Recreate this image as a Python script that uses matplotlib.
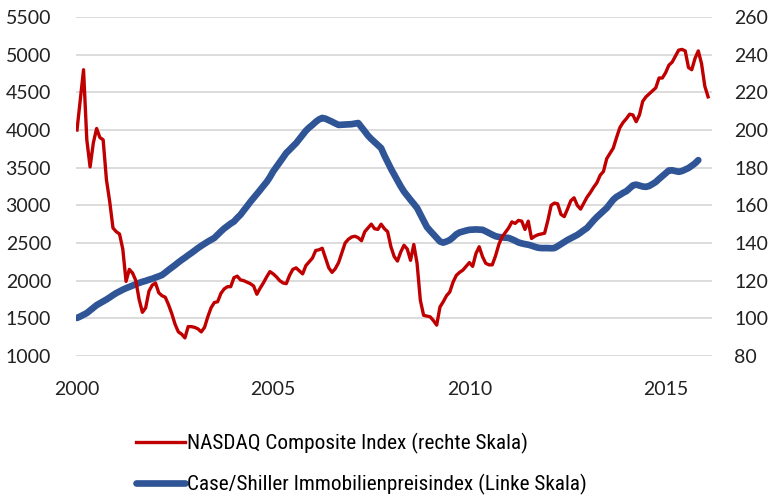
import matplotlib.pyplot as plt
from matplotlib import font_manager

# monthly values, Jan 2000 onwards
nasdaq = [
    4000, 4400, 4800, 3870, 3510, 3830, 4020, 3900, 3870, 3340, 3050, 2700,   # 2000
    2650, 2620, 2420, 1990, 2150, 2100, 2000, 1750, 1580, 1640, 1860, 1940,   # 2001
    1970, 1840, 1800, 1780, 1680, 1560, 1420, 1320, 1290, 1240, 1390, 1390,   # 2002
    1380, 1360, 1320, 1380, 1520, 1640, 1710, 1720, 1830, 1890, 1920, 1920,   # 2003
    2040, 2060, 2010, 2000, 1980, 1960, 1930, 1820, 1900, 1970, 2050, 2120,   # 2004
    2090, 2050, 2000, 1970, 1960, 2070, 2150, 2170, 2130, 2090, 2200, 2250,   # 2005
    2300, 2400, 2410, 2430, 2300, 2170, 2110, 2160, 2240, 2370, 2500, 2550,   # 2006
    2580, 2590, 2570, 2530, 2650, 2700, 2750, 2690, 2680, 2750, 2690, 2650,   # 2007
    2450, 2320, 2260, 2380, 2470, 2420, 2270, 2480, 2230, 1740, 1540, 1530,   # 2008
    1520, 1470, 1410, 1650, 1720, 1800, 1850, 1980, 2070, 2110, 2140, 2190,   # 2009
    2240, 2190, 2360, 2450, 2320, 2230, 2210, 2210, 2330, 2480, 2580, 2640,   # 2010
    2700, 2780, 2760, 2800, 2790, 2680, 2790, 2560, 2590, 2610, 2620, 2630,   # 2011
    2800, 3000, 3030, 3020, 2880, 2850, 2950, 3060, 3100, 3000, 2950, 3030,   # 2012
    3110, 3170, 3240, 3300, 3400, 3450, 3620, 3690, 3760, 3900, 4030, 4100,   # 2013
    4150, 4210, 4200, 4110, 4200, 4380, 4440, 4480, 4520, 4560, 4690, 4690,   # 2014
    4760, 4860, 4900, 4980, 5060, 5070, 5050, 4830, 4800, 4950, 5050, 4880,   # 2015
    4580, 4440,                                                               # 2016
]

case_shiller = [
    100.2, 101.0, 101.9, 102.8, 104.2, 105.6, 107.0, 108.0, 109.0, 110.0, 111.1, 112.3,
    113.4, 114.3, 115.2, 116.0, 116.7, 117.4, 118.1, 118.8, 119.4, 119.9, 120.5, 121.0,
    121.7, 122.3, 123.0, 124.3, 125.7, 127.0, 128.3, 129.7, 131.0, 132.2, 133.5, 134.7,
    136.0, 137.3, 138.5, 139.6, 140.7, 141.7, 142.7, 144.4, 146.1, 147.7, 149.0, 150.3,
    151.4, 153.3, 155.0, 157.3, 159.5, 161.8, 163.9, 166.0, 168.1, 170.3, 172.4, 175.0,
    178.0, 180.4, 182.9, 185.3, 187.8, 189.5, 191.3, 193.0, 195.2, 197.4, 199.6, 201.3,
    202.7, 204.3, 205.6, 206.4, 206.0, 205.2, 204.4, 203.5, 202.7, 202.8, 202.9, 203.0,
    203.1, 203.4, 203.7, 201.5, 199.3, 197.0, 195.2, 193.6, 192.0, 190.4, 186.5, 183.0,
    179.5, 176.3, 173.2, 170.1, 167.3, 165.1, 162.9, 160.8, 158.6, 155.2, 151.8, 148.5,
    146.5, 144.6, 142.7, 140.8, 140.2, 140.8, 141.6, 143.0, 144.6, 145.6, 146.1, 146.6,
    147.0, 147.1, 147.2, 147.1, 147.0, 146.2, 145.3, 144.4, 143.6, 143.2, 143.0, 142.8,
    142.7, 142.0, 141.2, 140.3, 139.8, 139.4, 139.1, 138.6, 138.0, 137.5, 137.3, 137.3,
    137.3, 137.2, 137.3, 138.3, 139.4, 140.5, 141.6, 142.5, 143.4, 144.3, 145.5, 146.8,
    148.0, 150.0, 152.0, 153.8, 155.4, 157.0, 158.6, 160.8, 163.0, 164.5, 165.5, 166.6,
    167.5, 169.0, 170.6, 171.0, 170.5, 170.0, 169.8, 170.3, 171.3, 172.4, 174.0, 175.5,
    177.0, 178.5, 178.6, 178.2, 177.8, 178.2, 179.0, 179.8, 181.0, 182.3, 184.0,
]

year_ticks = [0, 60, 120, 180]
year_labels = ['2000', '2005', '2010', '2015']
left_ticks = list(range(1000, 5501, 500))
right_ticks = list(range(80, 261, 20))


def pick_font(names):
    for n in names:
        try:
            font_manager.findfont(n, fallback_to_default=False)
            return n
        except ValueError:
            pass
    return 'DejaVu Sans'


tick_font = pick_font(['Lato', 'Open Sans', 'Noto Sans'])
legend_font = pick_font(['Liberation Sans Narrow', 'Roboto Condensed', 'Noto Sans', 'Roboto'])
plt.rcParams['font.family'] = [tick_font, 'DejaVu Sans']

fig = plt.figure(figsize=(7.71, 4.97), dpi=100)
ax = fig.add_axes([0.0986, 0.2837, 0.8249, 0.6821])

# blue on the base axes (scale on the right), red on the twin (scale on the left)
l_blue, = ax.plot(range(len(case_shiller)), case_shiller, color='#2F5597', lw=4.8,
                  solid_capstyle='round', solid_joinstyle='round')
ax.set_ylim(80, 260)
ax.grid(axis='y', color='#d9d9d9', lw=1.3)
ax.set_axisbelow(True)

ax2 = ax.twinx()
l_red, = ax2.plot(range(len(nasdaq)), nasdaq, color='#C00000', lw=2.4,
                  solid_joinstyle='round')
ax2.set_ylim(1000, 5500)

ax.set_yticks(right_ticks)
ax2.set_yticks(left_ticks)
ax.yaxis.tick_right()
ax2.yaxis.tick_left()

ax.set_xlim(-0.3, 194.2)
ax.set_xticks(year_ticks)
ax.set_xticklabels(year_labels)

for a in (ax, ax2):
    for s in a.spines.values():
        s.set_visible(False)
    a.tick_params(length=0, labelsize=14, colors='#222222')
ax.tick_params(axis='x', pad=18)
ax.tick_params(axis='y', pad=16)
ax2.tick_params(axis='y', pad=18)

fig.legend([l_red, l_blue],
           ['NASDAQ Composite Index (rechte Skala)',
            'Case/Shiller Immobilienpreisindex (Linke Skala)'],
           loc='upper left', bbox_to_anchor=(0.152, 0.168), frameon=False,
           handlelength=2.3, handletextpad=0.1, labelspacing=0.95,
           prop={'family': [legend_font, 'DejaVu Sans'], 'size': 15.3})

fig.savefig('out.png', dpi=100)
